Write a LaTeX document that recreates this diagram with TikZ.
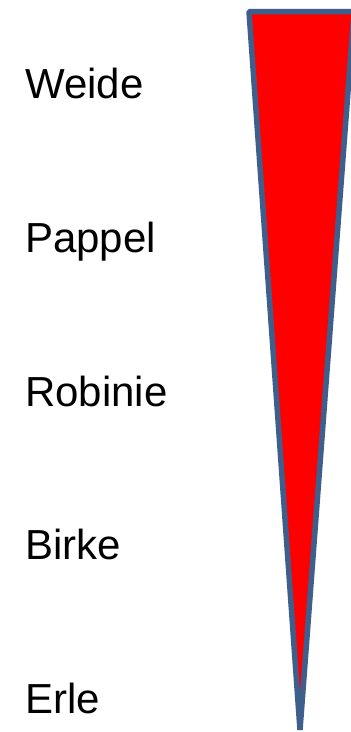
\documentclass[tikz,border=0pt]{standalone}
\usepackage{fontspec}
\setmainfont{Liberation Sans}
\definecolor{edgeblue}{RGB}{62,95,140}
\begin{document}
\begin{tikzpicture}[x=1pt,y=-1pt,
  lbl/.style={anchor=base west,inner sep=0pt,font=\fontsize{42}{42}\selectfont},
  wedge/.style={draw=edgeblue,fill=red,line width=5.5pt,line join=bevel}]
\useasboundingbox (0,0) rectangle (351,732);
\coordinate (tl) at (249,11.5);
\coordinate (tr) at (354,11.5);
\coordinate (tip) at (300,730);
\clip (0,0) rectangle (351,732);
\draw[wedge] (tl) -- (tr) -- (tip) -- cycle;
\node[lbl] (w) at (25,98) {Weide};
\node[lbl] (p) at (25,252) {Pappel};
\node[lbl] (r) at (25,406) {Robinie};
\node[lbl] (b) at (25,559) {Birke};
\node[lbl] (e) at (25,713) {Erle};
\end{tikzpicture}
\end{document}
